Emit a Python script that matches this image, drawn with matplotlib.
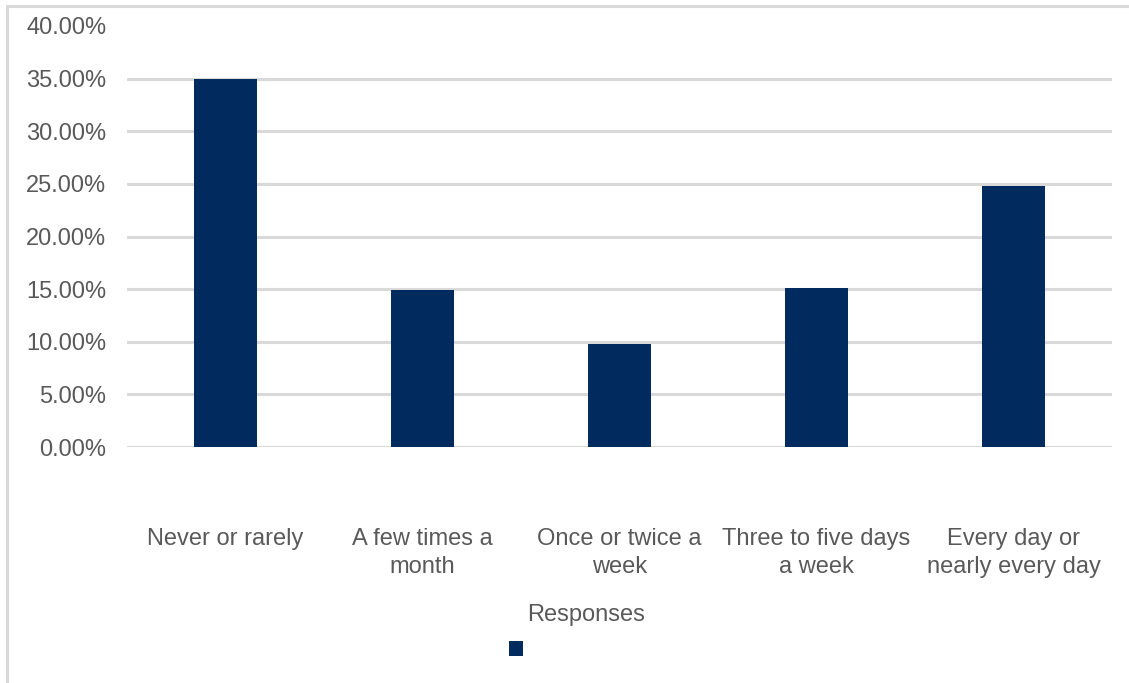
import matplotlib.pyplot as plt
from matplotlib.patches import Patch, Rectangle

# 数据
categories = ['Never or rarely', 'A few times a\nmonth', 'Once or twice a\nweek',
              'Three to five days\na week', 'Every day or\nnearly every day']
values = [35.0, 14.9, 9.8, 15.1, 24.8]
yticks = [0, 5, 10, 15, 20, 25, 30, 35, 40]

bar_color = '#012B5E'
text_color = '#595959'
grid_color = '#D9D9D9'
fs = 17

plt.rcParams['font.family'] = ['Liberation Sans', 'DejaVu Sans']

fig = plt.figure(figsize=(11.29, 6.83), dpi=100)
ax = fig.add_axes([127 / 1129, 1 - 447 / 683, (1112 - 127) / 1129, (447 - 26) / 683])

# 外框
fig.patches.append(Rectangle((7 / 1129, -0.1), 1.2, 1 - 6 / 683 + 0.1, transform=fig.transFigure,
                             fill=False, edgecolor=grid_color, linewidth=2.2, zorder=0))

# 网格线（40% 没有线）
for y in yticks[:-1]:
    ax.axhline(y, color=grid_color, linewidth=2.2, zorder=1)

x = list(range(len(categories)))
ax.bar(x, values, width=0.315, color=bar_color, zorder=2)

ax.set_xlim(-0.5, len(categories) - 0.5)
ax.set_ylim(0, 40)
ax.set_yticks(yticks)
ax.set_yticklabels([f'{v:.2f}%' for v in yticks])
ax.set_xticks(x)
ax.set_xticklabels(categories)
ax.tick_params(axis='y', length=0, pad=15, labelsize=fs, labelcolor=text_color)
ax.tick_params(axis='x', length=0, pad=58, labelsize=fs, labelcolor=text_color)
for lbl in ax.get_xticklabels():
    lbl.set_linespacing(1.38)
for s in ax.spines.values():
    s.set_visible(False)

fig.text(586 / 1129, 1 - 615 / 683, 'Responses', ha='center', va='center',
         fontsize=fs, color=text_color)

fig.legend(handles=[Patch(facecolor=bar_color)], labels=[''], loc='center left',
           bbox_to_anchor=(509 / 1129, 1 - 651 / 683), frameon=False,
           handlelength=0.58, handleheight=0.58, handletextpad=0, borderpad=0,
           borderaxespad=0, fontsize=fs)

fig.savefig('out.png', dpi=100)
